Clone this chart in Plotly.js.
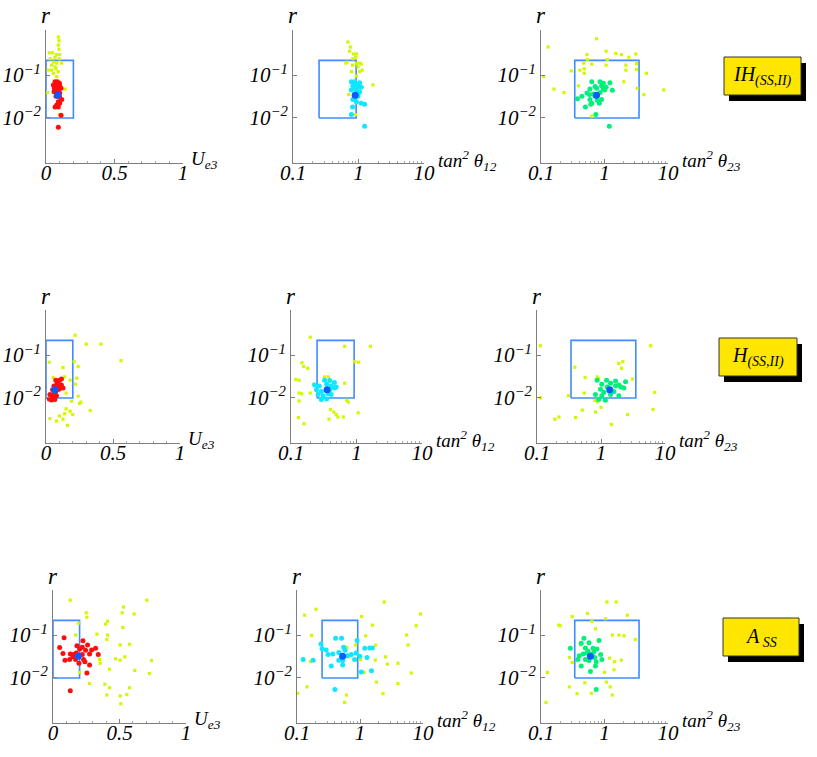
<!DOCTYPE html>
<html>
<head>
<meta charset="utf-8">
<script src="https://cdn.plot.ly/plotly-3.0.1.min.js"></script>
<style>
html, body { margin: 0; padding: 0; background: #fff; }
#chart { width: 817px; height: 757px; }
</style>
</head>
<body>
<div id="chart"></div>
<script>
// ---- IH(SS,II) row ----
var ih_ue3_all   = [0.09,0.095,0.09,0.095,0.024,0.049,0.078,0.10,0.03,0.066,0.098,0.054,0.078,0.115,0.041,0.066,0.017,0.041,0.073,0.054,0.078,0.09,0.14,0.012,0.098];
var ih_ue3_all_r = [0.77,0.63,0.50,0.40,0.33,0.33,0.30,0.30,0.24,0.26,0.24,0.20,0.19,0.19,0.17,0.155,0.13,0.13,0.14,0.11,0.092,0.12,0.047,0.039,0.012];
var ih_ue3_fit   = [0.066,0.083,0.098,0.054,0.078,0.10,0.066,0.09,0.11,0.059,0.078,0.10,0.073,0.098,0.115,0.09,0.10,0.078,0.09,0.066,0.11,0.09,0.07,0.085,0.095,0.06];
var ih_ue3_fit_r = [0.07,0.07,0.064,0.059,0.056,0.056,0.049,0.047,0.049,0.041,0.039,0.038,0.032,0.031,0.027,0.024,0.022,0.020,0.018,0.018,0.0115,0.0061,0.062,0.043,0.035,0.05];

var ih_t12_all   = [0.69,0.75,0.73,0.84,0.93,0.91,0.82,0.67,0.64,0.93,1.04,1.1,0.81,0.98,1.14,0.78,1.04,0.93,1.66,0.71,0.91];
var ih_t12_all_r = [0.59,0.45,0.36,0.31,0.31,0.26,0.24,0.20,0.19,0.185,0.19,0.18,0.17,0.155,0.13,0.12,0.12,0.095,0.059,0.035,0.012];
var ih_t12_fit   = [0.78,0.87,1.04,0.82,0.98,1.1,0.78,0.93,1.04,0.87,0.98,0.82,0.93,1.1,1.24,0.81,0.78,1.24,0.9,0.85,1.0];
var ih_t12_fit_r = [0.07,0.07,0.066,0.056,0.054,0.052,0.045,0.044,0.041,0.035,0.032,0.027,0.024,0.022,0.021,0.018,0.012,0.0064,0.062,0.05,0.038];

var ih_t23_all   = [0.75,0.13,1.06,0.53,1.51,1.85,2.42,3.1,0.54,1.11,0.47,0.63,1.06,2.17,3.19,0.30,0.41,0.48,0.48,2.17,3.19,0.11,4.57,0.39,0.16,0.23,2.02,3.27,4.16,8.55,0.63];
var ih_t23_all_r = [0.70,0.45,0.36,0.30,0.32,0.30,0.26,0.31,0.23,0.23,0.19,0.18,0.17,0.17,0.185,0.125,0.13,0.14,0.11,0.13,0.135,0.092,0.11,0.056,0.047,0.039,0.07,0.049,0.035,0.045,0.011];
var ih_t23_fit   = [0.63,0.85,0.96,1.22,0.71,0.90,1.06,0.59,0.75,0.96,0.53,0.67,0.85,1.0,1.33,0.44,0.58,0.71,0.375,0.59,0.77,0.90,0.50,0.63,0.83,0.61,0.73,1.19];
var ih_t23_fit_r = [0.07,0.07,0.064,0.066,0.054,0.056,0.052,0.047,0.049,0.047,0.038,0.036,0.039,0.045,0.044,0.032,0.035,0.032,0.028,0.027,0.026,0.027,0.018,0.022,0.022,0.021,0.012,0.0064];

// ---- H(SS,II) row ----
var h_ue3_all   = [0.217,0.30,0.41,0.024,0.56,0.127,0.21,0.24,0.054,0.139,0.18,0.23,0.22,0.15,0.24,0.19,0.26,0.25,0.15,0.18,0.33,0.139,0.20,0.10,0.029,0.078,0.127,0.16];
var h_ue3_all_r = [0.29,0.18,0.18,0.068,0.074,0.051,0.07,0.054,0.03,0.031,0.026,0.029,0.021,0.013,0.011,0.0084,0.0080,0.0074,0.0056,0.0049,0.0051,0.0043,0.0041,0.0038,0.0033,0.0029,0.0032,0.0023];
var h_ue3_fit   = [0.073,0.098,0.115,0.083,0.115,0.059,0.09,0.127,0.049,0.073,0.098,0.029,0.054,0.078,0.024,0.066,0.041,0.107,0.04,0.085,0.06];
var h_ue3_fit_r = [0.026,0.0255,0.0275,0.022,0.020,0.019,0.018,0.017,0.0155,0.0142,0.016,0.012,0.011,0.0113,0.0095,0.0092,0.0089,0.019,0.011,0.016,0.013];

var h_t12_all   = [0.197,0.66,1.63,0.94,1.08,0.147,0.156,0.18,0.118,0.133,0.326,0.37,0.22,0.66,0.133,0.146,0.197,0.133,0.71,0.75,0.40,0.45,0.49,0.52,0.63,1.06,0.13,0.38,0.158];
var h_t12_all_r = [0.26,0.16,0.16,0.07,0.068,0.066,0.054,0.049,0.027,0.026,0.031,0.031,0.021,0.022,0.013,0.0125,0.013,0.0085,0.0088,0.008,0.0054,0.0047,0.0041,0.0036,0.0036,0.0045,0.0035,0.0032,0.0025];
var h_t12_fit   = [0.326,0.39,0.46,0.27,0.35,0.41,0.49,0.245,0.29,0.39,0.46,0.26,0.31,0.37,0.41,0.29,0.35,0.23];
var h_t12_fit_r = [0.026,0.0255,0.023,0.019,0.021,0.019,0.018,0.0155,0.0142,0.0155,0.017,0.012,0.0113,0.0126,0.012,0.0092,0.0095,0.020];

var h_t23_all   = [0.113,5.96,0.39,1.9,2.2,2.1,0.565,0.87,0.92,3.1,0.113,0.31,0.55,6.9,0.80,0.87,1.0,0.51,0.82,6.5,2.6,0.22,0.19,0.40,1.45];
var h_t23_all_r = [0.165,0.165,0.052,0.064,0.07,0.049,0.03,0.031,0.028,0.0275,0.01,0.0113,0.013,0.0135,0.0088,0.0082,0.006,0.0052,0.0047,0.0054,0.0041,0.0036,0.0032,0.0035,0.0024];
var h_t23_fit   = [0.87,1.22,1.69,1.03,1.41,1.9,2.42,0.98,1.25,1.69,2.28,2.05,0.82,1.03,1.41,1.9,0.92,1.17,1.59,1.11];
var h_t23_fit_r = [0.026,0.026,0.025,0.021,0.022,0.020,0.024,0.016,0.018,0.019,0.017,0.018,0.012,0.0113,0.012,0.0113,0.0092,0.0088,0.0142,0.0135];

// ---- A_SS row ----
var a_ue3_all   = [0.13,0.705,0.53,0.52,0.61,0.25,0.255,0.41,0.395,0.525,0.17,0.33,0.41,0.405,0.505,0.575,0.54,0.47,0.505,0.74,0.35,0.355,0.425,0.615,0.725,0.20,0.275,0.39,0.425,0.575,0.405,0.505,0.555,0.51,0.19];
var a_ue3_all_r = [0.65,0.65,0.45,0.33,0.31,0.33,0.26,0.21,0.18,0.15,0.10,0.105,0.10,0.079,0.059,0.061,0.031,0.028,0.026,0.0255,0.027,0.022,0.016,0.015,0.0127,0.0135,0.0074,0.0071,0.0059,0.0059,0.004,0.0038,0.0041,0.0025,0.19];
var a_ue3_fit   = [0.083,0.225,0.05,0.18,0.22,0.26,0.32,0.20,0.245,0.29,0.075,0.13,0.155,0.175,0.22,0.275,0.34,0.09,0.125,0.17,0.23,0.15,0.195,0.24,0.275,0.255,0.13];
var a_ue3_fit_r = [0.087,0.074,0.051,0.056,0.052,0.059,0.049,0.047,0.044,0.045,0.037,0.036,0.035,0.038,0.035,0.036,0.035,0.026,0.027,0.027,0.027,0.031,0.022,0.024,0.020,0.013,0.005];

var a_t12_all   = [2.43,0.132,0.20,9.1,1.06,1.57,7.8,0.17,1.23,1.77,5.5,5.8,0.62,0.85,0.125,0.163,0.67,1.02,1.75,2.55,2.72,4.0,1.17,6.5,1.82,4.0,0.144,0.102,2.32,0.61,0.57];
var a_t12_all_r = [0.59,0.29,0.40,0.31,0.27,0.17,0.165,0.098,0.096,0.058,0.10,0.059,0.052,0.059,0.026,0.024,0.031,0.027,0.026,0.031,0.021,0.022,0.0135,0.013,0.0080,0.0074,0.0062,0.0044,0.0043,0.004,0.0027];
var a_t12_fit   = [0.24,0.41,0.51,0.90,0.25,0.29,0.37,0.31,0.46,0.55,0.58,0.63,0.73,0.87,0.99,1.19,1.43,1.57,1.29,0.46,0.53,0.35,1.05,1.52,0.125,0.18,0.40,0.53,0.82];
var a_t12_fit_r = [0.062,0.084,0.084,0.075,0.048,0.045,0.036,0.035,0.039,0.052,0.044,0.033,0.035,0.038,0.032,0.049,0.05,0.05,0.03,0.026,0.0255,0.019,0.0138,0.0148,0.027,0.026,0.0054,0.02,0.027];

var a_t23_all   = [1.09,1.53,0.54,2.29,0.31,1.04,0.19,0.20,0.63,0.72,1.33,1.69,2.03,3.06,0.42,0.28,0.31,1.2,1.44,1.84,1.41,1.0,0.126,0.28,0.37,0.62,1.07,1.23,1.33,0.12,0.49];
var a_t23_all_r = [0.59,0.59,0.32,0.29,0.27,0.24,0.17,0.165,0.21,0.14,0.10,0.10,0.096,0.079,0.059,0.030,0.023,0.029,0.024,0.026,0.0155,0.0135,0.0135,0.0062,0.0043,0.0044,0.008,0.0062,0.004,0.0027,0.0077];
var a_t23_fit   = [0.475,0.43,0.57,0.82,0.29,0.50,0.66,0.76,0.46,0.53,0.62,0.87,0.38,0.50,0.70,0.91,0.57,0.74,0.43,0.72,0.60,0.74,0.55,0.68,0.40];
var a_t23_fit_r = [0.084,0.064,0.066,0.075,0.049,0.05,0.049,0.047,0.036,0.038,0.035,0.035,0.027,0.027,0.03,0.027,0.0255,0.024,0.019,0.019,0.0142,0.0054,0.042,0.04,0.033];

// best points, one per row (IH, H, A)
var bestUe3 = [0.085, 0.066, 0.19];
var bestT12 = [0.89, 0.355, 0.53];
var bestT23 = [0.75, 1.37, 0.60];
var bestR   = [0.034, 0.0155, 0.032];

// experimental boxes
var boxUe3 = [0, 0.2];
var boxT12 = [0.25, 0.92];
var boxT23 = [0.34, 3.5];
var boxR   = [0.01, 0.22];

var rowLabels = ["IH<sub>(SS,II)</sub>", "H<sub>(SS,II)</sub>", "A<sub> SS</sub>"];
var xLabels = ["U<sub>e3</sub>", "tan<sup>2</sup> θ<sub>12</sub>", "tan<sup>2</sup> θ<sub>23</sub>"];

var W = 817, H = 757;
var FONT = "Liberation Serif, Times New Roman, serif";
var YELLOW = "#d4f700", RED = "#ff0d0d", CYAN = "#10e6ff", GREEN = "#00f07a", BLUE = "#0a5cff", BOXC = "#3f8cff", AXC = "#808080";

// pixel frames of each plot
var rowsPx = [[30, 163], [310, 443], [590, 723]];
var colsPx = [
  [[46, 183], [293, 424], [541, 668]],
  [[46, 180], [291, 422], [537, 665]],
  [[53, 186], [297, 423], [541, 668]]
];

var rows = [
  { all: [[ih_ue3_all, ih_ue3_all_r], [ih_t12_all, ih_t12_all_r], [ih_t23_all, ih_t23_all_r]],
    fit: [[ih_ue3_fit, ih_ue3_fit_r], [ih_t12_fit, ih_t12_fit_r], [ih_t23_fit, ih_t23_fit_r]] },
  { all: [[h_ue3_all, h_ue3_all_r], [h_t12_all, h_t12_all_r], [h_t23_all, h_t23_all_r]],
    fit: [[h_ue3_fit, h_ue3_fit_r], [h_t12_fit, h_t12_fit_r], [h_t23_fit, h_t23_fit_r]] },
  { all: [[a_ue3_all, a_ue3_all_r], [a_t12_all, a_t12_all_r], [a_t23_all, a_t23_all_r]],
    fit: [[a_ue3_fit, a_ue3_fit_r], [a_t12_fit, a_t12_fit_r], [a_t23_fit, a_t23_fit_r]] }
];
var fitColors = [RED, CYAN, GREEN];
var boxes = [boxUe3, boxT12, boxT23];

var logMinor = [0.2,0.3,0.4,0.5,0.6,0.7,0.8,0.9,2,3,4,5,6,7,8,9];
var tickFont = { family: FONT, size: 21, style: "italic", color: "#000" };

var data = [];
var layout = {
  width: W, height: H,
  margin: { l: 0, r: 0, t: 0, b: 0 },
  paper_bgcolor: "#fff", plot_bgcolor: "rgba(0,0,0,0)",
  showlegend: false,
  shapes: [], annotations: []
};

for (var i = 0; i < 3; i++) {
  for (var j = 0; j < 3; j++) {
    var n = i * 3 + j + 1;
    var xa = n === 1 ? "x" : "x" + n, ya = n === 1 ? "y" : "y" + n;
    var xk = n === 1 ? "xaxis" : "xaxis" + n, yk = n === 1 ? "yaxis" : "yaxis" + n;
    var L = colsPx[i][j][0], R = colsPx[i][j][1], T = rowsPx[i][0], B = rowsPx[i][1];
    var bx = boxes[j];
    var bestX = [bestUe3, bestT12, bestT23][j][i];

    data.push({ x: [bx[0], bx[1], bx[1], bx[0], bx[0]], y: [boxR[0], boxR[0], boxR[1], boxR[1], boxR[0]],
      xaxis: xa, yaxis: ya, mode: "lines", line: { color: BOXC, width: 1.6 }, hoverinfo: "skip" });
    data.push({ x: rows[i].all[j][0], y: rows[i].all[j][1], xaxis: xa, yaxis: ya, mode: "markers",
      marker: { color: YELLOW, size: 3.2, symbol: "square" } });
    data.push({ x: rows[i].fit[j][0], y: rows[i].fit[j][1], xaxis: xa, yaxis: ya, mode: "markers",
      marker: { color: fitColors[j], size: 5 } });
    data.push({ x: [bestX], y: [bestR[i]], xaxis: xa, yaxis: ya, mode: "markers",
      marker: { color: BLUE, size: 7 } });

    var xax = {
      domain: [L / W, R / W], anchor: ya,
      showline: true, linecolor: AXC, linewidth: 1, showgrid: false, zeroline: false,
      ticks: "inside", ticklen: 4, tickcolor: AXC, tickfont: tickFont, ticklabelstandoff: -9
    };
    if (j === 0) {
      xax.type = "linear"; xax.range = [0, 1];
      xax.tickvals = [0, 0.5, 1]; xax.ticktext = ["0", "0.5", "1"];
      xax.minor = { dtick: 0.1, ticks: "inside", ticklen: 2, tickcolor: "#aaa" };
    } else {
      xax.type = "log"; xax.range = [-1, 1];
      xax.tickvals = [0.1, 1, 10]; xax.ticktext = ["0.1", "1", "10"];
      xax.minor = { tickvals: logMinor, ticks: "inside", ticklen: 2, tickcolor: "#aaa" };
    }
    layout[xk] = xax;
    layout[yk] = {
      domain: [1 - B / H, 1 - T / H], anchor: xa, type: "log", range: [-3.05, 0.05],
      showline: true, linecolor: AXC, linewidth: 1, showgrid: false, zeroline: false,
      ticks: "inside", ticklen: 4, tickcolor: AXC,
      tickvals: [0.01, 0.1], ticktext: ["10<sup>−2</sup>", "10<sup>−1</sup>"], tickfont: tickFont
    };

    layout.annotations.push({ xref: "paper", yref: "paper", x: L / W, y: 1 - (T - 14) / H,
      text: "r", showarrow: false, xanchor: "center", yanchor: "middle",
      font: { family: FONT, size: 23, style: "italic", color: "#000" } });
    layout.annotations.push({ xref: "paper", yref: "paper", x: (R + (j === 0 ? 6 : 12)) / W, y: 1 - (B - 3) / H,
      text: xLabels[j], showarrow: false, xanchor: "left", yanchor: "middle",
      font: { family: FONT, size: 19, style: "italic", color: "#000" } });
  }
}

// label boxes on the right
var labelBoxPx = [[724, 57, 801, 95], [719, 338, 797, 376], [723, 618, 799, 656]];
for (var k = 0; k < 3; k++) {
  var b = labelBoxPx[k];
  layout.shapes.push({ type: "rect", xref: "paper", yref: "paper",
    x0: (b[0] + 5) / W, x1: (b[2] + 5) / W, y0: 1 - (b[3] + 6) / H, y1: 1 - (b[1] + 6) / H,
    fillcolor: "#000", line: { width: 0 } });
  layout.shapes.push({ type: "rect", xref: "paper", yref: "paper",
    x0: b[0] / W, x1: b[2] / W, y0: 1 - b[3] / H, y1: 1 - b[1] / H,
    fillcolor: "#ffe600", line: { color: "#333", width: 1 } });
  layout.annotations.push({ xref: "paper", yref: "paper", x: (b[0] + b[2]) / 2 / W, y: 1 - (b[1] + b[3]) / 2 / H,
    text: rowLabels[k], showarrow: false, xanchor: "center", yanchor: "middle",
    font: { family: FONT, size: 20, style: "italic", color: "#000" } });
}

Plotly.newPlot("chart", data, layout, { displayModeBar: false, staticPlot: true });
</script>
</body>
</html>
